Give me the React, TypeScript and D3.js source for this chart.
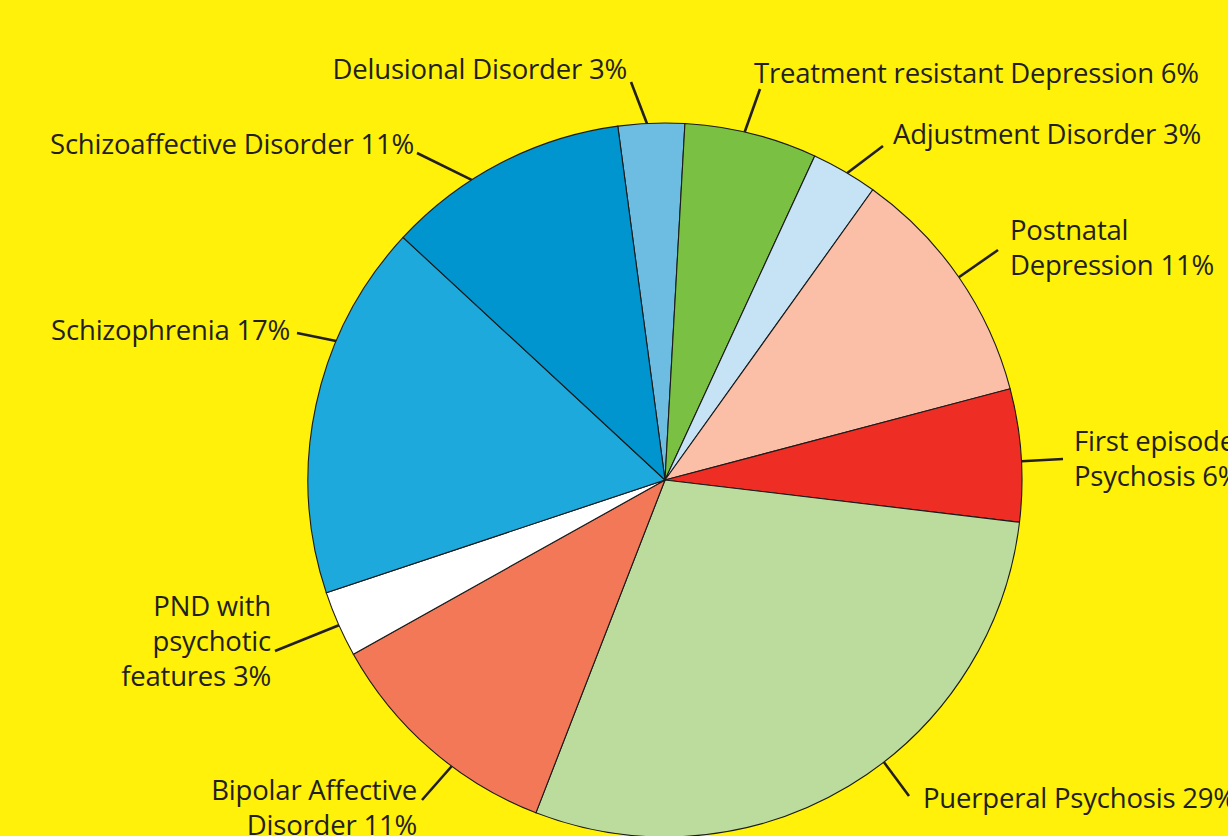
import React from "react";
import * as d3 from "d3";

// slices, clockwise from the top
const categories = [
  "Delusional Disorder",
  "Treatment resistant Depression",
  "Adjustment Disorder",
  "Postnatal Depression",
  "First episode Psychosis",
  "Puerperal Psychosis",
  "Bipolar Affective Disorder",
  "PND with psychotic features",
  "Schizophrenia",
  "Schizoaffective Disorder",
];
const percents = [3, 6, 3, 11, 6, 29, 11, 3, 17, 11];
const sliceColors = [
  "#6dbde3",
  "#7ac143",
  "#c5e3f4",
  "#fbbfa8",
  "#ee2e24",
  "#bcdc9e",
  "#f27857",
  "#ffffff",
  "#1ea9dc",
  "#0095cf",
];
// how each label wraps (percent goes on the last line)
const labelLines = [
  ["Delusional Disorder"],
  ["Treatment resistant Depression"],
  ["Adjustment Disorder"],
  ["Postnatal", "Depression"],
  ["First episode", "Psychosis"],
  ["Puerperal Psychosis"],
  ["Bipolar Affective", "Disorder"],
  ["PND with", "psychotic", "features"],
  ["Schizophrenia"],
  ["Schizoaffective Disorder"],
];

// label layout: angle where leader touches the rim, leader end, text anchor point
const labelLayout = [
  { ang: -2.9, ex: 631, ey: 82, tx: 627, ty: 79, anchor: "end" },
  { ang: 12.9, ex: 760, ey: 89, tx: 754, ty: 83, anchor: "start" },
  { ang: 30.7, ex: 883, ey: 146, tx: 893, ty: 144, anchor: "start" },
  { ang: 55.4, ex: 998, ey: 250, tx: 1010, ty: 240, anchor: "start" },
  { ang: 87, ex: 1063, ey: 459, tx: 1074, ty: 451, anchor: "start" },
  { ang: 142.2, ex: 909, ey: 796, tx: 923, ty: 808, anchor: "start" },
  { ang: 216.7, ex: 422, ey: 800, tx: 417, ty: 800, anchor: "end" },
  { ang: 246, ex: 275, ey: 651, tx: 271, ty: 616, anchor: "end" },
  { ang: 292.9, ex: 297, ey: 333, tx: 290, ty: 340, anchor: "end" },
  { ang: 327.2, ex: 417, ey: 153, tx: 414, ty: 154, anchor: "end" },
];

const W = 1228;
const H = 836;
const cx = 665;
const cy = 480;
const R = 357;
const lineH = 35;
const startDeg = -7.6;

export default function App() {
  const rows = categories.map((c, i) => ({ name: c, value: percents[i], color: sliceColors[i] }));

  const pie = d3
    .pie<any>()
    .sort(null)
    .value((d) => d.value)
    .startAngle((startDeg * Math.PI) / 180)
    .endAngle((startDeg * Math.PI) / 180 + 2 * Math.PI);

  const arc = d3.arc<any>().innerRadius(0).outerRadius(R);
  const arcs = pie(rows);

  return (
    <div style={{ position: "fixed", left: 0, top: 0, width: W, height: H }}>
      <svg width={W} height={H} style={{ display: "block" }}>
        <rect x={0} y={0} width={W} height={H} fill="#fff10a" />
        <g transform={`translate(${cx},${cy})`}>
          {arcs.map((a, i) => (
            <path key={i} d={arc(a) || ""} fill={a.data.color} stroke="#1a1a1a" strokeWidth={1.1} />
          ))}
        </g>
        {labelLayout.map((l, i) => {
          const t = (l.ang * Math.PI) / 180;
          const sx = cx + R * Math.sin(t);
          const sy = cy - R * Math.cos(t);
          const lines = labelLines[i].slice();
          lines[lines.length - 1] = `${lines[lines.length - 1]} ${percents[i]}%`;
          return (
            <g key={i}>
              <line x1={sx} y1={sy} x2={l.ex} y2={l.ey} stroke="#231f20" strokeWidth={2.6} />
              <text
                x={l.tx}
                y={l.ty}
                textAnchor={l.anchor}
                fill="#231f20"
                fontFamily="'Open Sans', 'Noto Sans', sans-serif"
                fontSize={27.5}
                letterSpacing={-0.2}
              >
                {lines.map((s, k) => (
                  <tspan key={k} x={l.tx} y={l.ty + k * lineH}>
                    {s}
                  </tspan>
                ))}
              </text>
            </g>
          );
        })}
      </svg>
    </div>
  );
}
